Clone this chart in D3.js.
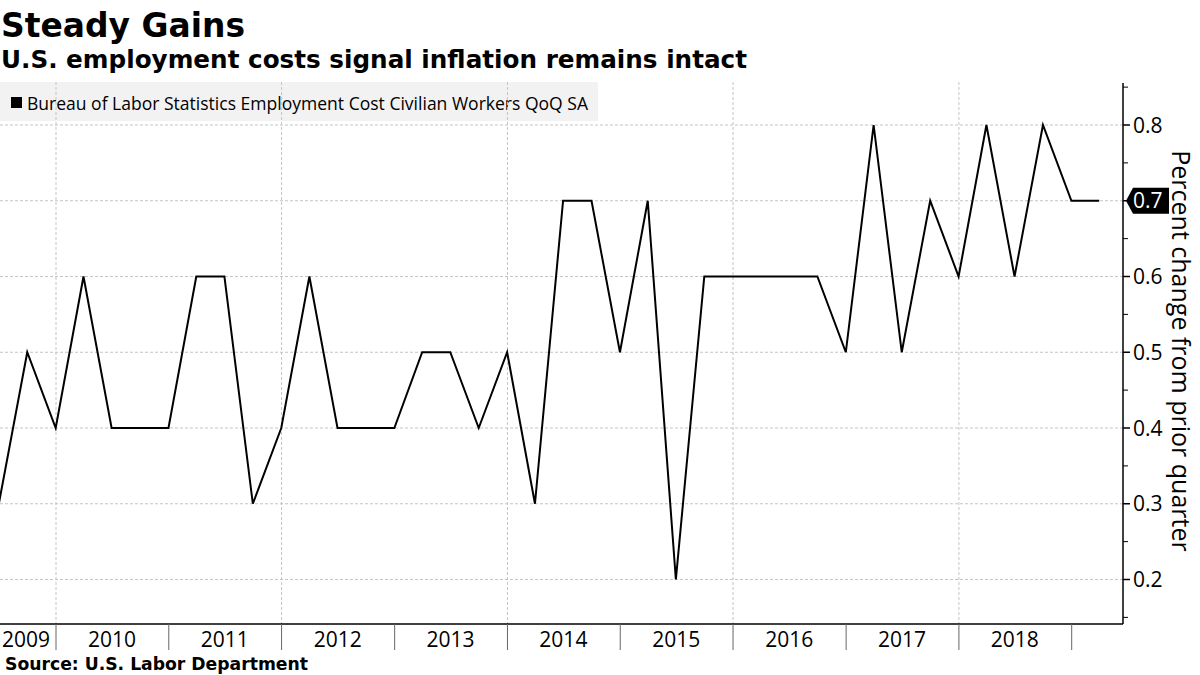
<!DOCTYPE html>
<html>
<head>
<meta charset="utf-8">
<script src="https://cdn.jsdelivr.net/npm/d3@7"></script>
<style>
  html, body { margin: 0; padding: 0; background: #fff; }
  svg { display: block; }
</style>
</head>
<body>
<svg id="chart" width="1200" height="675"></svg>
<script>
// ---- Data ----
const quarters = [
  "2009Q2","2009Q3","2009Q4",
  "2010Q1","2010Q2","2010Q3","2010Q4",
  "2011Q1","2011Q2","2011Q3","2011Q4",
  "2012Q1","2012Q2","2012Q3","2012Q4",
  "2013Q1","2013Q2","2013Q3","2013Q4",
  "2014Q1","2014Q2","2014Q3","2014Q4",
  "2015Q1","2015Q2","2015Q3","2015Q4",
  "2016Q1","2016Q2","2016Q3","2016Q4",
  "2017Q1","2017Q2","2017Q3","2017Q4",
  "2018Q1","2018Q2","2018Q3","2018Q4",
  "2019Q1"
];
const values = [
  0.3, 0.5, 0.4,
  0.6, 0.4, 0.4, 0.4,
  0.6, 0.6, 0.3, 0.4,
  0.6, 0.4, 0.4, 0.4,
  0.5, 0.5, 0.4, 0.5,
  0.3, 0.7, 0.7, 0.5,
  0.7, 0.2, 0.6, 0.6,
  0.6, 0.6, 0.6, 0.5,
  0.8, 0.5, 0.7, 0.6,
  0.8, 0.6, 0.8, 0.7,
  0.7
];
const yearLabels = ["2009","2010","2011","2012","2013","2014","2015","2016","2017","2018"];
const yTicks = [0.2, 0.3, 0.4, 0.5, 0.6, 0.7, 0.8];
const yMinorTicks = [0.15, 0.25, 0.35, 0.45, 0.55, 0.65, 0.75, 0.85];
const lastValue = 0.7;

const titleText = "Steady Gains";
const subtitleText = "U.S. employment costs signal inflation remains intact";
const legendText = "Bureau of Labor Statistics Employment Cost Civilian Workers QoQ SA";
const sourceText = "Source: U.S. Labor Department";
const yAxisTitle = "Percent change from prior quarter";

// ---- Layout ----
const plotLeft = 0, plotRight = 1123, plotTop = 83, plotBottom = 624;

const parseQ = s => {
  const yr = +s.slice(0, 4), q = +s.slice(5);
  return new Date(yr, q * 3, 0); // last day of quarter
};
const data = quarters.map((q, i) => ({ date: parseQ(q), value: values[i] }));

const x = d3.scaleTime()
  .domain([new Date(2010, 0, 1), new Date(2019, 0, 1)])
  .range([56, 1071.7]);
const y = d3.scaleLinear().domain([0.2, 0.8]).range([579.5, 125]);

const svg = d3.select("#chart");
const FONT = "'Open Sans', 'DejaVu Sans', sans-serif";

// Legend box
svg.append("rect")
  .attr("x", 0).attr("y", 82).attr("width", 598).attr("height", 39)
  .attr("fill", "#f2f2f2");
svg.append("rect")
  .attr("x", 11).attr("y", 97).attr("width", 11).attr("height", 11)
  .attr("fill", "#000");
svg.append("text")
  .attr("x", 27).attr("y", 110)
  .attr("font-family", FONT).attr("font-size", 18.5)
  .attr("textLength", 561).attr("lengthAdjust", "spacingAndGlyphs")
  .attr("fill", "#000")
  .text(legendText);

// Horizontal gridlines
svg.append("g").selectAll("line").data(yTicks).join("line")
  .attr("x1", plotLeft).attr("x2", plotRight)
  .attr("y1", d => y(d)).attr("y2", d => y(d))
  .attr("stroke", "#c4c4c4").attr("stroke-width", 1)
  .attr("stroke-dasharray", "3,2");

// Vertical gridlines at even years
const gridYears = [2010, 2012, 2014, 2016, 2018].map(yr => new Date(yr, 0, 1));
svg.append("g").selectAll("line").data(gridYears).join("line")
  .attr("x1", d => x(d)).attr("x2", d => x(d))
  .attr("y1", 82).attr("y2", plotBottom)
  .attr("stroke", "#c4c4c4").attr("stroke-width", 1)
  .attr("stroke-dasharray", "3,2");

// Data line
const line = d3.line().x(d => x(d.date)).y(d => y(d.value));
svg.append("path")
  .datum(data)
  .attr("d", line)
  .attr("fill", "none")
  .attr("stroke", "#000")
  .attr("stroke-width", 2)
  .attr("stroke-linejoin", "miter");

// X axis line
svg.append("line")
  .attr("x1", plotLeft).attr("x2", plotRight)
  .attr("y1", plotBottom).attr("y2", plotBottom)
  .attr("stroke", "#000").attr("stroke-width", 1.5);

// Year separator ticks
const yearTicks = d3.range(2010, 2020).map(yr => new Date(yr, 0, 1));
svg.append("g").selectAll("line").data(yearTicks).join("line")
  .attr("x1", d => x(d)).attr("x2", d => x(d))
  .attr("y1", plotBottom).attr("y2", 650)
  .attr("stroke", "#666").attr("stroke-width", 1);

// Year labels
svg.append("g").selectAll("text").data(yearLabels).join("text")
  .attr("font-family", FONT).attr("font-size", 21)
  .attr("fill", "#000")
  .attr("y", 647)
  .text(d => d)
  .each(function(d) {
    const w = this.getComputedTextLength();
    let cx = x(new Date(+d, 6, 1));
    if (cx - w / 2 < 2) cx = 2 + w / 2;
    d3.select(this).attr("x", cx).attr("text-anchor", "middle");
  });

// Y axis
svg.append("line")
  .attr("x1", plotRight).attr("x2", plotRight)
  .attr("y1", plotTop).attr("y2", plotBottom)
  .attr("stroke", "#000").attr("stroke-width", 1.5);
svg.append("g").selectAll("line").data(yTicks).join("line")
  .attr("x1", plotRight).attr("x2", plotRight + 7)
  .attr("y1", d => y(d)).attr("y2", d => y(d))
  .attr("stroke", "#000").attr("stroke-width", 1.5);
svg.append("g").selectAll("line").data(yMinorTicks).join("line")
  .attr("x1", plotRight).attr("x2", plotRight + 5)
  .attr("y1", d => y(d)).attr("y2", d => y(d))
  .attr("stroke", "#000").attr("stroke-width", 1);
svg.append("g").selectAll("text").data(yTicks.filter(d => d !== lastValue)).join("text")
  .attr("x", plotRight + 10)
  .attr("y", d => y(d) + 7.5)
  .attr("font-family", FONT).attr("font-size", 21)
  .attr("fill", "#000")
  .text(d => d3.format(".1f")(d));

// Last value marker
const ly = y(lastValue);
const lx = plotRight + 3;
svg.append("path")
  .attr("d", `M${lx},${ly} L${lx + 7},${ly - 13} L${lx + 43},${ly - 13} L${lx + 43},${ly + 13} L${lx + 7},${ly + 13} Z`)
  .attr("fill", "#000");
svg.append("text")
  .attr("x", plotRight + 10)
  .attr("y", ly + 7.5)
  .attr("font-family", FONT).attr("font-size", 21)
  .attr("fill", "#fff")
  .text(d3.format(".1f")(lastValue));

// Y axis title (rotated)
svg.append("text")
  .attr("transform", `translate(1172, 351) rotate(90)`)
  .attr("text-anchor", "middle")
  .attr("font-family", FONT).attr("font-size", 25)
  .attr("fill", "#000")
  .text(yAxisTitle);

// Titles
svg.append("text")
  .attr("x", 1).attr("y", 37)
  .attr("font-family", "'DejaVu Sans', sans-serif").attr("font-weight", "bold")
  .attr("font-size", 33)
  .attr("textLength", 244).attr("lengthAdjust", "spacingAndGlyphs")
  .attr("fill", "#000")
  .text(titleText);
svg.append("text")
  .attr("x", 1).attr("y", 68)
  .attr("font-family", "'DejaVu Sans', sans-serif").attr("font-weight", "bold")
  .attr("font-size", 25)
  .attr("textLength", 746).attr("lengthAdjust", "spacingAndGlyphs")
  .attr("fill", "#000")
  .text(subtitleText);

// Source
svg.append("text")
  .attr("x", 5).attr("y", 670)
  .attr("font-family", "'DejaVu Sans', sans-serif").attr("font-weight", "bold")
  .attr("font-size", 17)
  .attr("textLength", 303).attr("lengthAdjust", "spacingAndGlyphs")
  .attr("fill", "#000")
  .text(sourceText);
</script>
</body>
</html>
